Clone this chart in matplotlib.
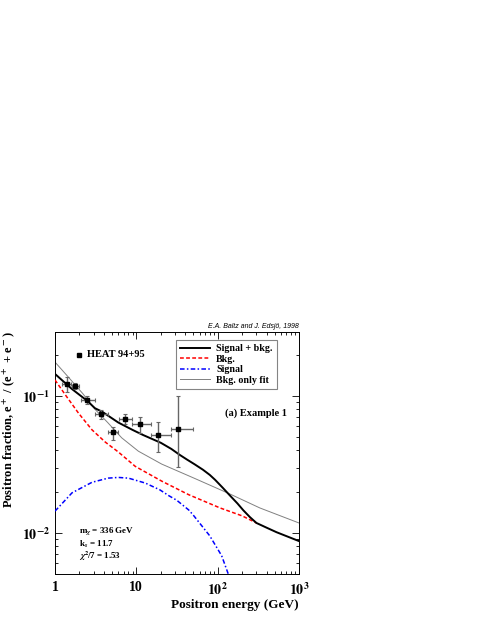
import matplotlib
matplotlib.use("Agg")
import matplotlib.pyplot as plt
from matplotlib.ticker import NullFormatter, FixedLocator, FixedFormatter, LogLocator
import numpy as np

plt.rcParams['font.family'] = ['Liberation Serif', 'DejaVu Serif']
plt.rcParams['font.weight'] = 'bold'
plt.rcParams['axes.labelweight'] = 'bold'
plt.rcParams['mathtext.fontset'] = 'stix'

# HEAT 94+95 data points
heat_e = [1.40, 1.78, 2.48, 3.71, 5.17, 7.32, 11.1, 18.6, 32.3]
heat_f = [0.122, 0.118, 0.0935, 0.0736, 0.0544, 0.0676, 0.0622, 0.052, 0.0572]
heat_f_lo = [0.107, 0.112, 0.0875, 0.0676, 0.0478, 0.0622, 0.054, 0.0389, 0.0301]
heat_f_hi = [0.138, 0.124, 0.100, 0.0791, 0.0592, 0.0736, 0.070, 0.065, 0.100]
heat_e_lo = [1.22, 1.62, 2.10, 3.08, 4.48, 6.12, 8.92, 15.0, 26.7]
heat_e_hi = [1.59, 1.96, 3.08, 4.48, 5.95, 8.77, 15.0, 26.7, 50.2]

# signal + background
tot_e = [1.0, 1.6, 2.5, 3.1, 3.8, 6.0, 9.0, 12.0, 20.0, 27.0, 34.0, 42.0, 52.0, 66.0, 80.0, 93.0,
         115.0, 142.0, 175.0, 207.0, 250.0, 300.0, 400.0, 530.0, 1000.0]
tot_f = [0.145, 0.113, 0.092, 0.0814, 0.0768, 0.064, 0.0565, 0.052, 0.0455, 0.041, 0.0372, 0.0343, 0.0317,
         0.0289, 0.0265, 0.0244, 0.0214, 0.0187, 0.0164, 0.0146, 0.0130, 0.0118, 0.0109, 0.0101, 0.0087]

# background
bkg_e = [1.0, 1.34, 1.95, 2.85, 4.16, 6.0, 9.7, 20.7, 44.0, 107.0, 200.0, 300.0]
bkg_f = [0.131, 0.102, 0.0748, 0.0566, 0.046, 0.039, 0.0306, 0.0238, 0.019, 0.0152, 0.0133, 0.0118]

# signal
sig_e = [1.0, 1.62, 2.85, 4.5, 6.0, 8.0, 12.9, 19.5, 25.0, 31.4, 44.0, 50.0, 80.0, 112.0, 135.0, 150.0]
sig_f = [0.0144, 0.0196, 0.0234, 0.0251, 0.0254, 0.0251, 0.0231, 0.0206, 0.0187, 0.0173, 0.0147, 0.0135, 0.0095, 0.0068, 0.0050, 0.0038]

# background-only fit
fit_e = [1.0, 1.5, 2.2, 3.1, 4.5, 6.6, 10.6, 20.5, 52.0, 142.0, 330.0, 1000.0]
fit_f = [0.177, 0.135, 0.104, 0.080, 0.0635, 0.0495, 0.0395, 0.0318, 0.025, 0.0192, 0.0152, 0.0118]

fig = plt.figure(figsize=(4.79, 6.19), dpi=100)
ax = fig.add_axes([0.1148, 0.0727, 0.5094, 0.3914])

ax.plot(fit_e, fit_f, color='0.5', lw=0.7, label='Bkg. only fit', zorder=2)
ax.plot(bkg_e, bkg_f, color='red', lw=1.1, dashes=(2.5, 1.5), label='Bkg.', zorder=3)
ax.plot(sig_e, sig_f, color='blue', lw=1.1, dashes=(3, 1.5, 1, 1.5), label='Signal', zorder=3)
ax.plot(tot_e, tot_f, color='black', lw=1.4, label='Signal + bkg.', zorder=4)

yerr = [np.array(heat_f) - np.array(heat_f_lo), np.array(heat_f_hi) - np.array(heat_f)]
xerr = [np.array(heat_e) - np.array(heat_e_lo), np.array(heat_e_hi) - np.array(heat_e)]
ax.errorbar(heat_e, heat_f, yerr=yerr, xerr=xerr, fmt='s', color='black', ms=3.5,
            ecolor='0.4', elinewidth=1.0, capsize=1.5, capthick=0.8, zorder=5)

ax.set_xscale('log')
ax.set_yscale('log')
ax.set_xlim(1, 1000)
ax.set_ylim(0.005, 0.295)

ax.xaxis.set_major_locator(FixedLocator([1, 10, 100, 1000]))
ax.xaxis.set_major_formatter(FixedFormatter(['1', '10', r'$\mathbf{10^{2}}$', r'$\mathbf{10^{3}}$']))
ax.yaxis.set_major_locator(FixedLocator([0.01, 0.1]))
ax.yaxis.set_major_formatter(FixedFormatter([r'$\mathbf{10^{-2}}$', r'$\mathbf{10^{-1}}$']))
ax.xaxis.set_minor_locator(LogLocator(subs=np.arange(2, 10)))
ax.yaxis.set_minor_locator(LogLocator(subs=np.arange(2, 10)))
ax.xaxis.set_minor_formatter(NullFormatter())
ax.yaxis.set_minor_formatter(NullFormatter())
ax.tick_params(which='both', direction='in', top=True, right=True, labelsize=10, width=0.6)
ax.tick_params(which='major', length=5)
ax.tick_params(which='minor', length=2.5)
ax.tick_params(axis='x', pad=5)
for s in ax.spines.values():
    s.set_linewidth(0.7)

ax.set_xlabel('Positron energy (GeV)', fontsize=9.5, fontweight='bold', ha='right')
ax.xaxis.set_label_coords(1.0, -0.105)
ax.set_ylabel(r'Positron fraction, e$^+$ / (e$^+$ + e$^-$)', fontsize=9, fontweight='bold', ha='right')
ax.yaxis.set_label_coords(-0.155, 1.0)

handles, labels = ax.get_legend_handles_labels()
order = [3, 1, 2, 0]
leg = ax.legend([handles[i] for i in order], [labels[i] for i in order],
                loc='upper left', bbox_to_anchor=(0.495, 0.967), fontsize=7.2,
                frameon=True, fancybox=False, edgecolor='0.4', handlelength=3.0,
                handletextpad=0.6, labelspacing=0.15, borderpad=0.45, borderaxespad=0)
leg.get_frame().set_linewidth(0.8)

ax.plot([0.0996], [0.904], 's', color='black', ms=3.5, transform=ax.transAxes)
ax.text(0.13, 0.904, 'HEAT 94+95', transform=ax.transAxes, fontsize=7.5, va='center')
ax.text(0.95, 0.663, '(a) Example 1', transform=ax.transAxes, fontsize=7.5, va='center', ha='right')
ax.text(0.0996, 0.179, r'm$_\chi$ = 336 GeV', transform=ax.transAxes, fontsize=6.5, va='center')
ax.text(0.0996, 0.124, r'k$_s$ = 11.7', transform=ax.transAxes, fontsize=6.5, va='center')
ax.text(0.0996, 0.071, r'$\chi^2$/7 = 1.53', transform=ax.transAxes, fontsize=6.5, va='center')
ax.text(1.0, 1.008, 'E.A. Baltz and J. Edsjö, 1998', transform=ax.transAxes, fontsize=5,
        ha='right', va='bottom', family='Liberation Sans', style='italic', weight='normal')

fig.savefig('out.png', dpi=100)
